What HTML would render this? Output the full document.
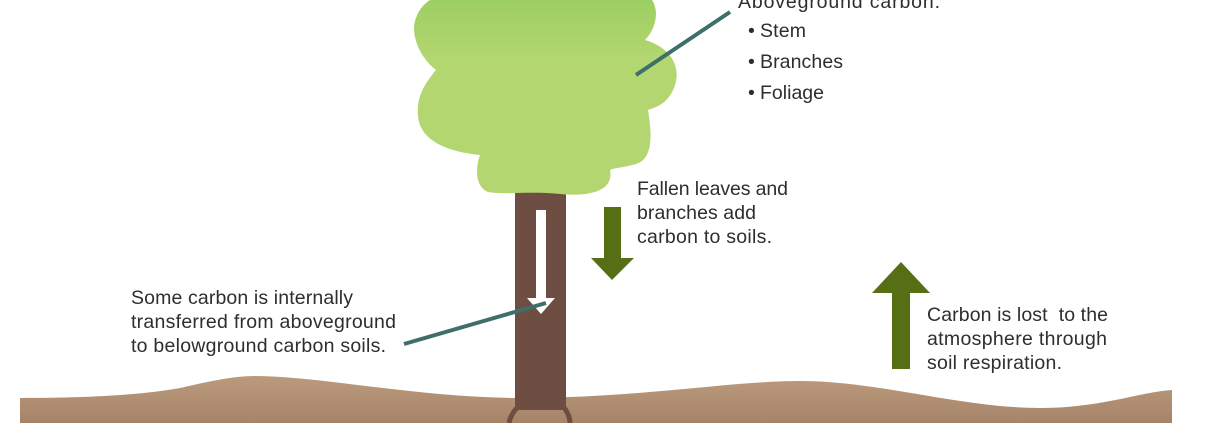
<!DOCTYPE html>
<html><head><meta charset="utf-8"><style>
body{margin:0;background:#fff;}
svg{display:block;}
text{font-family:"Liberation Sans",Arial,sans-serif;font-size:19.5px;fill:#2e2e2e;}
</style></head><body>
<svg width="1210" height="423" viewBox="0 0 1210 423" xmlns="http://www.w3.org/2000/svg">
<defs>
<linearGradient id="g" x1="0" y1="0" x2="0" y2="1"><stop offset="0" stop-color="#9ccf63"/><stop offset="0.3" stop-color="#b3d670"/><stop offset="1" stop-color="#b3d670"/></linearGradient>
<linearGradient id="s" x1="0" y1="0" x2="0" y2="1"><stop offset="0" stop-color="#bb9a7c"/><stop offset="1" stop-color="#a6846a"/></linearGradient>
</defs>
<path d="M20,398 C90,398 140,395 180,388 C215,380 235,376 255,376 C320,376 420,398 520,398 C640,398 730,381 800,381 C880,381 960,408 1040,408 C1100,408 1140,392 1172,390 L1172,423 L20,423 Z" fill="url(#s)"/>
<rect x="515" y="185" width="51" height="225" fill="#6e4e43"/>
<path d="M520,405 C512,412 510,418 509,423" stroke="#6e4e43" stroke-width="5" fill="none"/>
<path d="M562,405 C568,412 570,418 570,423" stroke="#6e4e43" stroke-width="5" fill="none"/>
<line x1="518" y1="408" x2="563" y2="408" stroke="#6e4e43" stroke-width="3"/>
<path d="M430,0 L652,0 C660,12 655,30 645,40 C672,48 682,68 674,88 C668,102 660,106 648,110 C652,135 654,162 632,165 C620,168 614,168 610,170 C614,190 592,197 560,194 C530,191 508,195 488,192 C474,186 476,166 480,155 C450,152 420,142 418,116 C416,96 426,82 436,70 C418,56 410,32 416,18 C419,9 425,3 430,0 Z" fill="url(#g)"/>
<line x1="636" y1="75" x2="730" y2="12" stroke="#3e6f6a" stroke-width="4"/>
<polygon points="536,210 546,210 546,298 555,298 541,314 527,298 536,298" fill="#fff"/>
<line x1="404" y1="344" x2="546" y2="303" stroke="#3e6f6a" stroke-width="4"/>
<polygon points="604,207 621,207 621,258 634,258 612,280 591,258 604,258" fill="#566e14"/>
<polygon points="892,369 910,369 910,293 930,293 901,262 872,293 892,293" fill="#566e14"/>
<text x="738" y="8" textLength="202">Aboveground carbon:</text>
<text x="748" y="37">•</text><text x="760" y="37" textLength="46">Stem</text>
<text x="748" y="68">•</text><text x="760" y="68" textLength="83">Branches</text>
<text x="748" y="99">•</text><text x="760" y="99" textLength="64">Foliage</text>
<text x="637" y="195" textLength="151">Fallen leaves and</text>
<text x="637" y="219" textLength="119">branches add</text>
<text x="637" y="243" textLength="135">carbon to soils.</text>
<text x="131" y="304" textLength="222">Some carbon is internally</text>
<text x="131" y="328" textLength="265">transferred from aboveground</text>
<text x="131" y="352" textLength="255">to belowground carbon soils.</text>
<text x="927" y="321" textLength="181" xml:space="preserve">Carbon is lost  to the</text>
<text x="927" y="345" textLength="180">atmosphere through</text>
<text x="927" y="369" textLength="135">soil respiration.</text>
</svg>
</body></html>
